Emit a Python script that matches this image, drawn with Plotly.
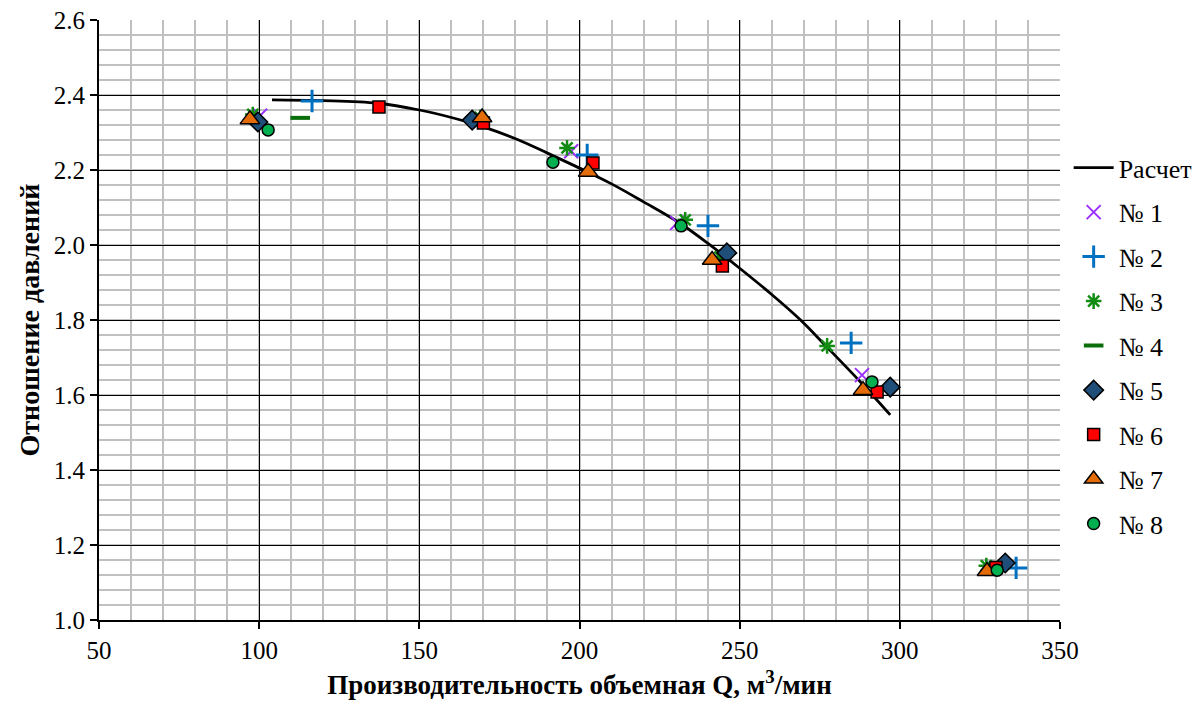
import plotly.graph_objects as go

# Calculated curve
calc_q = [104, 120, 137, 150, 160, 170, 181, 190, 200, 210, 220, 231, 240, 250, 260, 269, 277, 288, 297]
calc_p = [2.387, 2.385, 2.378, 2.36, 2.34, 2.315, 2.28, 2.245, 2.205, 2.163, 2.115, 2.06, 2.005, 1.938, 1.868, 1.80, 1.73, 1.632, 1.547]

# Experimental series
s1_q = [100.3, 197.4, 230.5, 288.2, 329.0]
s1_p = [2.345, 2.25, 2.059, 1.653, 1.14]
s2_q = [116.5, 202.4, 240.1, 284.8, 336.3]
s2_p = [2.384, 2.24, 2.051, 1.739, 1.139]
s3_q = [98.0, 169.0, 196.1, 233.0, 243.9, 277.3, 327.0]
s3_p = [2.348, 2.34, 2.259, 2.067, 1.968, 1.731, 1.145]
s4_q = [112.8]
s4_p = [2.339]
s5_q = [99.6, 166.5, 246.0, 297.0, 332.9]
s5_p = [2.328, 2.333, 1.979, 1.621, 1.152]
s6_q = [137.4, 170.0, 204.2, 244.6, 292.9, 330.0]
s6_p = [2.368, 2.325, 2.219, 1.944, 1.608, 1.14]
s7_q = [97.1, 169.6, 202.7, 241.4, 288.5, 327.2]
s7_p = [2.335, 2.34, 2.195, 1.96, 1.613, 1.13]
s8_q = [102.8, 191.7, 231.7, 291.3, 330.4]
s8_p = [2.307, 2.221, 2.051, 1.635, 1.133]

names = ["№ 1", "№ 2", "№ 3", "№ 4", "№ 5", "№ 6", "№ 7", "№ 8"]

x_ticks = [50, 100, 150, 200, 250, 300, 350]
y_ticks = [1.0, 1.2, 1.4, 1.6, 1.8, 2.0, 2.2, 2.4, 2.6]

FONT = "Liberation Serif"

fig = go.Figure()

fig.add_trace(go.Scatter(x=calc_q, y=calc_p, mode="lines", name="Расчет",
                         line=dict(color="black", width=2.8, shape="spline"),
                         legendgroup="c"))

styles = [
    dict(symbol="x-thin-open", size=14, color="#9B30FF", line=dict(width=2, color="#9B30FF")),
    dict(symbol="cross-thin-open", size=16, color="#0070C0", line=dict(width=3, color="#0070C0")),
    dict(symbol="asterisk-open", size=13, color="#128C12", line=dict(width=2.5, color="#128C12")),
    dict(symbol="line-ew-open", size=14, color="#0A6E0A", line=dict(width=4, color="#0A6E0A")),
    dict(symbol="diamond", size=15, color="#1F4E79", line=dict(width=1.5, color="black")),
    dict(symbol="square", size=12, color="#FF0000", line=dict(width=1.5, color="black")),
    dict(symbol="triangle-up", size=17, color="#E36C09", line=dict(width=1.5, color="black")),
    dict(symbol="circle", size=12, color="#00B050", line=dict(width=1.5, color="black")),
]
data = [(s1_q, s1_p), (s2_q, s2_p), (s3_q, s3_p), (s4_q, s4_p),
        (s5_q, s5_p), (s6_q, s6_p), (s7_q, s7_p), (s8_q, s8_p)]

for i, ((q, p), st, nm) in enumerate(zip(data, styles, names)):
    fig.add_trace(go.Scatter(x=q, y=p, mode="markers", name=nm, marker=st,
                             legendgroup="g%d" % i))

fig.update_layout(
    width=1202, height=709,
    paper_bgcolor="white", plot_bgcolor="white",
    margin=dict(l=99, r=142, t=20, b=89, autoexpand=False),
    font=dict(family=FONT, size=25, color="black"),
    legend=dict(x=1.009, y=0.793, xanchor="left", yanchor="top",
                font=dict(family=FONT, size=26, color="black"),
                traceorder="grouped", tracegroupgap=7.7,
                bgcolor="rgba(0,0,0,0)", itemwidth=40),
    showlegend=True,
)

fig.update_xaxes(
    range=[50, 350], tickvals=x_ticks, ticktext=[str(v) for v in x_ticks],
    showgrid=True, gridcolor="black", gridwidth=1,
    minor=dict(dtick=10, showgrid=True, gridcolor="#c0c0c0", gridwidth=1.5),
    showline=True, linecolor="black", linewidth=2,
    ticks="outside", ticklen=7, tickcolor="black", tickwidth=1.5,
    tickfont=dict(family=FONT, size=25, color="black"),
    zeroline=False, automargin=False,
    title=dict(text="Производительность объемная Q, м<sup>3</sup>/мин",
               font=dict(family=FONT, size=27, weight="bold"), standoff=12),
)
fig.update_yaxes(
    range=[1.0, 2.6], tickvals=y_ticks, ticktext=["%.1f" % v for v in y_ticks],
    showgrid=True, gridcolor="black", gridwidth=1,
    minor=dict(dtick=0.04, showgrid=True, gridcolor="#c0c0c0", gridwidth=1.5),
    showline=True, linecolor="black", linewidth=2,
    ticks="outside", ticklen=7, tickcolor="black", tickwidth=1.5,
    tickfont=dict(family=FONT, size=25, color="black"),
    zeroline=False, automargin=False,
    title=dict(text="Отношение давлений",
               font=dict(family=FONT, size=28, weight="bold"), standoff=6),
)

fig.write_html("out.html", config={"displayModeBar": False},
               post_script="document.body.style.margin='0';document.body.style.overflow='hidden';")
